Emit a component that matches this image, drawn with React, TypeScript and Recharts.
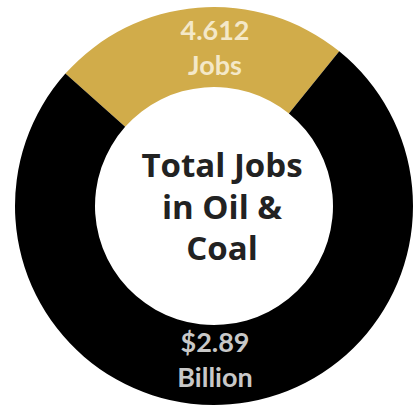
import { PieChart, Pie, Cell } from "recharts";

// share of the ring taken by each segment
const segmentNames = ["Jobs", "Wages"];
const segmentShares = [24.25, 75.75];
const segmentColors = ["#d1ac4a", "#000000"];
const labelTop = ["4.612", "$2.89"];
const labelBottom = ["Jobs", "Billion"];
const labelColors = ["#f4e8c8", "#c8c8c8"];
const centerLines = ["Total Jobs", "in Oil &", "Coal"];

const data = segmentNames.map((name, i) => ({ name, value: segmentShares[i] }));

const RAD = Math.PI / 180;

function SliceLabel(props: any) {
  const { cx, cy, midAngle, innerRadius, outerRadius, index } = props;
  const r = (innerRadius + outerRadius) / 2;
  // keep the text centred on the ring's vertical axis
  const y = cy - r * Math.sin(midAngle * RAD) + (Math.sin(midAngle * RAD) > 0 ? 0 : -4);
  return (
    <text
      x={cx + 1}
      y={y}
      textAnchor="middle"
      fill={labelColors[index]}
      style={{ fontFamily: "Lato, sans-serif", fontWeight: 700, fontSize: 27 }}
    >
      <tspan x={cx + 1} dy={-8}>
        {labelTop[index]}
      </tspan>
      <tspan x={cx + 1} dy={35}>
        {labelBottom[index]}
      </tspan>
    </text>
  );
}

export default function App() {
  const cx = 214;
  const cy = 206;
  return (
    <div style={{ position: "absolute", left: 0, top: 0, width: 415, height: 407, background: "#fff" }}>
      <PieChart width={415} height={407} margin={{ top: 0, right: 0, bottom: 0, left: 0 }}>
        <Pie
          data={data}
          dataKey="value"
          cx={cx}
          cy={cy}
          innerRadius={119}
          outerRadius={199}
          startAngle={51}
          endAngle={411}
          stroke="none"
          label={SliceLabel}
          labelLine={false}
          isAnimationActive={false}
        >
          {data.map((d, i) => (
            <Cell key={d.name} fill={segmentColors[i]} />
          ))}
        </Pie>
        <text
          x={cx + 8}
          y={cy}
          textAnchor="middle"
          fill="#222"
          style={{ fontFamily: "'Open Sans', sans-serif", fontWeight: 700, fontSize: 33 }}
        >
          {centerLines.map((line, i) => (
            <tspan key={line} x={cx + 8} y={cy - 29 + i * 41.5}>
              {line}
            </tspan>
          ))}
        </text>
      </PieChart>
    </div>
  );
}
